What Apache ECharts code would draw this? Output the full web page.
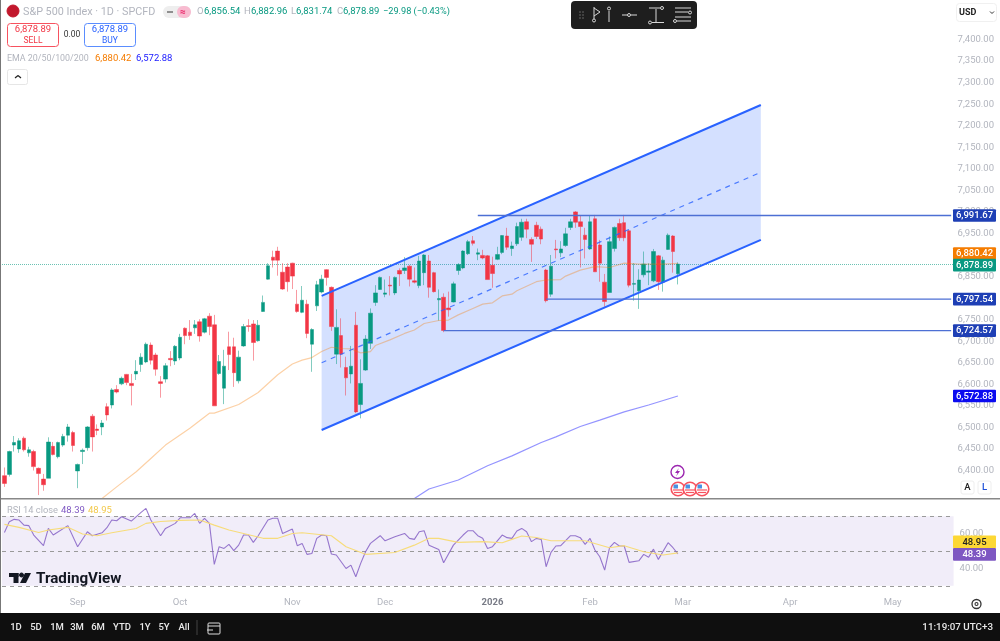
<!DOCTYPE html>
<html>
<head>
<meta charset="utf-8">
<style>
html, body { margin: 0; padding: 0; background: #fff; }
#chart { width: 1000px; height: 641px; }
</style>
<script src="https://cdn.jsdelivr.net/npm/echarts@6/dist/echarts.min.js"></script>
</head>
<body>
<div id="chart"></div>
<script>
const FONT = 'Roboto, sans-serif';
const barCount = 195;
const lastBar = barCount - 1;

// open, close, low, high per session
const candles = [
    [6388,6370,6362,6407],[6391,6444,6386,6446],[6459,6465,6444,6480],[6450,6469,6441,6475],[6475,6448,6444,6479],
    [6441,6448,6432,6455],[6444,6409,6400,6448],[6405,6393,6343,6407],[6380,6367,6353,6392],[6382,6466,6382,6477],
    [6456,6437,6435,6466],[6432,6465,6428,6467],[6459,6479,6455,6485],[6482,6501,6467,6508],[6488,6458,6444,6492],
    [6399,6414,6359,6416],[6444,6447,6415,6451],[6453,6501,6446,6503],[6526,6478,6444,6531],[6496,6493,6482,6507],
    [6501,6510,6482,6517],[6548,6529,6516,6556],[6552,6587,6544,6591],[6588,6582,6579,6598],[6601,6614,6598,6618],
    [6623,6604,6598,6624],[6602,6597,6551,6624],[6624,6630,6610,6656],[6646,6663,6629,6672],[6652,6693,6649,6697],
    [6691,6656,6646,6697],[6668,6635,6620,6673],[6606,6602,6569,6619],[6612,6643,6604,6649],[6660,6657,6642,6677],
    [6654,6688,6645,6691],[6661,6709,6656,6717],[6730,6713,6693,6732],[6721,6713,6703,6749],[6731,6738,6717,6749],
    [6745,6712,6699,6751],[6721,6752,6718,6754],[6758,6734,6714,6765],[6738,6550,6550,6761],[6625,6653,6622,6668],
    [6591,6642,6554,6680],[6687,6669,6633,6722],[6687,6627,6594,6708],[6608,6663,6602,6678],[6689,6734,6687,6740],
    [6736,6734,6722,6751],[6740,6697,6655,6749],[6701,6737,6699,6749],[6769,6790,6768,6806],[6844,6875,6843,6881],
    [6895,6888,6871,6910],[6909,6888,6852,6919],[6860,6821,6819,6881],[6872,6838,6815,6881],[6881,6851,6821,6882],
    [6786,6769,6766,6819],[6767,6795,6765,6828],[6786,6718,6707,6796],[6693,6727,6629,6730],[6782,6831,6770,6840],
    [6814,6844,6811,6854],[6866,6848,6829,6867],[6825,6734,6724,6827],[6670,6732,6647,6774],[6713,6670,6639,6753],
    [6639,6615,6574,6664],[6624,6642,6602,6689],[6737,6536,6533,6768],[6553,6602,6521,6658],[6633,6705,6631,6714],
    [6695,6765,6682,6776],[6790,6812,6782,6830],[6820,6848,6819,6850],[6809,6812,6802,6843],[6830,6828,6806,6851],
    [6812,6848,6807,6850],[6864,6856,6828,6869],[6864,6870,6856,6895],[6874,6844,6827,6877],[6840,6837,6834,6871],
    [6829,6886,6823,6898],[6859,6900,6830,6902],[6886,6825,6801,6900],[6859,6815,6813,6861],[6796,6799,6748,6820],
    [6802,6725,6721,6811],[6777,6773,6757,6815],[6791,6833,6790,6838],[6864,6878,6854,6881],[6870,6909,6867,6911],
    [6903,6931,6900,6935],[6933,6927,6922,6944],[6902,6905,6888,6915],[6899,6893,6890,6912],[6898,6843,6843,6900],
    [6876,6857,6824,6896],[6890,6901,6888,6919],[6906,6945,6902,6946],[6944,6918,6912,6963],[6915,6921,6898,6931],
    [6926,6966,6921,6975],[6941,6976,6933,6984],[6977,6960,6939,6984],[6936,6925,6884,6941],[6969,6943,6937,6977],
    [6960,6937,6925,6966],[6865,6794,6790,6868],[6809,6874,6803,6900],[6914,6912,6892,6935],[6905,6914,6895,6932],
    [6922,6949,6919,6963],[6964,6977,6958,6984],[7000,6976,6963,7002],[6977,6966,6871,6991],[6946,6936,6892,6963],
    [6914,6977,6912,6991],[6984,6861,6861,6993],[6923,6881,6838,6935],[6837,6792,6780,6856],[6813,6931,6813,6943],
    [6915,6964,6908,6966],[6973,6940,6933,6984],[6975,6940,6932,6993],[6956,6830,6825,6958],[6832,6834,6794,6881],
    [6817,6842,6775,6867],[6854,6879,6848,6908],[6860,6863,6830,6881],[6840,6908,6837,6914],[6898,6838,6819,6900],
    [6837,6888,6815,6896],[6913,6946,6912,6950],[6944,6908,6859,6946],[6856.54,6878.89,6831.74,6882.96]
];

const ema50Bars = [20,23,27,30,33,38,42,43,48,52,56,59,61,63,65,67,69,71,73,75,76,79,82,84,86,89,91,93,96,98,100,102,104,105,109,111,114,115,118,121,124,127,130,135,138];
const ema50Values = [6335,6362,6397,6428,6459,6498,6533,6533,6553,6581,6622,6647,6656,6662,6676,6686,6683,6682,6673,6676,6690,6703,6718,6726,6741,6748,6749,6761,6776,6786,6789,6805,6809,6817,6838,6842,6843,6851,6865,6873,6871,6881,6879,6879,6880.42];
const ema200Bars = [84,87,93,99,104,110,113,118,122,127,132,138];
const ema200Values = [6335,6357,6378,6411,6434,6465,6478,6502,6517,6536,6552,6572.88];

const rsiBars = [0,1,2,3,4,5,6,8,9,10,13,15,17,18,20,21,22,23,24,26,28,29,30,32,33,35,36,38,39,40,41,42,43,44,45,46,47,48,49,50,51,52,54,55,56,57,59,60,61,62,63,64,65,66,67,68,70,71,72,73,74,75,77,78,80,82,83,84,85,86,87,89,90,92,94,95,96,97,98,99,100,102,103,104,105,106,107,108,109,110,111,112,113,114,116,117,118,119,120,121,122,123,124,125,126,127,128,130,131,132,133,134,136,137,138];
const rsiValues = [60.7,66.9,68.2,67.8,64.9,64.6,59.2,53.1,63.0,59.2,64.6,52.5,61.1,58.8,60.5,63.4,67.8,67.4,69.7,67.2,72.2,74.5,67.8,58.8,63.0,65.9,69.1,69.1,71.6,65.9,68.8,65.9,42.3,52.5,51.5,53.8,50.2,53.4,59.2,59.2,55.0,58.8,67.8,68.8,68.8,60.1,62.6,53.1,54.4,48.1,48.6,57.3,59.2,58.8,48.3,47.7,40.0,41.9,35.2,42.9,49.6,54.4,58.8,55.9,58.2,60.1,57.3,56.7,61.1,61.7,53.4,50.9,43.3,53.4,59.2,61.7,61.7,58.8,57.3,51.5,52.5,59.2,57.7,57.3,61.5,63.0,61.1,55.4,57.3,56.7,41.0,49.2,52.9,53.1,58.8,58.8,57.7,53.8,57.3,50.6,46.7,39.1,51.9,55.0,52.9,52.9,43.5,44.4,48.1,46.4,51.1,45.2,54.8,51.9,48.39];
const rsiMaBars = [0,3,7,9,13,16,19,22,27,29,32,36,40,43,46,49,53,56,59,61,67,70,74,80,84,87,89,93,98,102,104,106,109,112,115,119,124,127,131,135,138];
const rsiMaValues = [65.3,63.6,60.7,62.1,63.6,59.8,58.8,60.5,63.0,65.9,67.0,67.6,67.8,64.9,62.1,60.1,57.3,57.3,60.1,60.5,58.8,52.5,48.1,49.2,53.4,57.3,57.3,55.0,55.4,54.8,56.7,58.6,57.8,55.9,55.9,55.9,51.9,53.1,49.6,47.7,48.95];
const rsiLevels = [70, 50, 30];
const rsiTicks = [40, 60];

// parallel channel drawing: bars and prices of its two ends
const channelBars = [65, 155];
const channelTop = [6805, 7248];
const channelMid = [6650, 7092];
const channelBottom = [6494, 6935];

const levelPrices = [6991.67, 6797.54, 6724.57];
const levelStartBars = [97, 111, 90];
const priceTicks = [6400,6450,6500,6550,6600,6650,6700,6750,6800,6850,6900,6950,7000,7050,7100,7150,7200,7250,7300,7350,7400];
const lastClose = 6878.89;
const ema50Last = 6880.42;
const ema200Last = 6572.88;
const rsiLast = 48.39;
const rsiMaLast = 48.95;

const monthBars = [15, 36, 59, 78, 100, 120, 139, 161, 182];
const monthLabels = ['Sep', 'Oct', 'Nov', 'Dec', '2026', 'Feb', 'Mar', 'Apr', 'May'];
const rangeLabels = ['1D', '5D', '1M', '3M', '6M', 'YTD', '1Y', '5Y', 'All'];

const fmt = (v) => v.toLocaleString('en-US', { minimumFractionDigits: 2, maximumFractionDigits: 2 });
const pairs = (bars, values) => bars.map((b, i) => [b, values[i]]);
const categories = Array.from({ length: barCount }, (_, i) => String(i));

function lineSeries(name, data, color, width, extra) {
    return Object.assign({
        name: name, type: 'line', data: data, symbol: 'none', silent: true,
        lineStyle: { color: color, width: width }, z: 5
    }, extra || {});
}

// price tag sitting in the axis column, placed from the axis scale
function priceTag(value, bg, textColor, shift, axis) {
    return {
        type: 'custom', xAxisIndex: axis, yAxisIndex: axis, z: 20, silent: true, clip: false,
        data: [[lastBar, value]],
        renderItem: function (params, api) {
            const p = api.coord([api.value(0), api.value(1)]);
            const y = p[1] + shift;
            return {
                type: 'group', children: [
                    { type: 'rect', shape: { x: 953, y: y - 6.3, width: 43, height: 12.6, r: 1 }, style: { fill: bg } },
                    { type: 'text', style: { x: 974.5, y: y + 0.5, text: fmt(value), fill: textColor, font: '500 9.5px ' + FONT, align: 'center', verticalAlign: 'middle' } }
                ]
            };
        }
    };
}

// chrome helpers
const txt = (x, y, text, fill, size, weight, align) => ({
    type: 'text', silent: true, z: 30,
    style: { x: x, y: y, text: text, fill: fill, font: (weight || 400) + ' ' + size + 'px ' + FONT, align: align || 'left', verticalAlign: 'middle' }
});
const box = (x, y, w, h, r, fill, stroke, z) => ({
    type: 'rect', silent: true, z: z || 29, shape: { x: x, y: y, width: w, height: h, r: r },
    style: { fill: fill, stroke: stroke || null, lineWidth: stroke ? 1 : 0 }
});
const seg = (x1, y1, x2, y2, stroke, w) => ({
    type: 'line', silent: true, z: 31, shape: { x1: x1, y1: y1, x2: x2, y2: y2 }, style: { stroke: stroke, lineWidth: w || 1 }
});
const dot = (x, y, r, fill, stroke, w) => ({
    type: 'circle', silent: true, z: 31, shape: { cx: x, cy: y, r: r }, style: { fill: fill, stroke: stroke, lineWidth: w || 1 }
});

const GREEN = '#089981';
const GREY = '#b2b5be';
const rangeX = [16, 36, 57, 77, 98, 122, 145, 164, 184];

function flag(x, y) {
    return [
        dot(x, y, 6.8, '#fff', '#f7525f', 1.6),
        seg(x - 5, y + 1, x + 5, y + 1, '#f7525f', 1.2),
        seg(x - 4, y + 3.5, x + 4, y + 3.5, '#f7525f', 1.2),
        box(x - 4.5, y - 4.5, 4.5, 4, 0.5, '#4a90e2', null, 31)
    ];
}

const tbIcon = '#d8d8d8';
const chrome = [
    // panes and frame
    box(0, 498, 1000, 1.4, 0, '#888888', null, 28),
    box(0, 0, 1, 613, 0, '#777777', null, 28),
    box(0, 613, 1000, 28, 0, '#0f0f0f', null, 28),
    // header
    dot(13, 11, 6, '#c2182d', '#c2182d', 1),
    txt(13, 11.5, '500', '#fff', 5.5, 700, 'center'),
    txt(23, 12, 'S&P 500 Index · 1D · SPCFD', GREY, 10.8),
    box(163, 6, 28, 12, 6, '#eeeeee'),
    box(177, 6, 14, 12, 6, '#f8bbd0'),
    seg(167, 12, 173, 12, '#777', 1.6),
    txt(183, 12, '≈', '#e91e63', 10, 700, 'center'),
    txt(197, 12, 'O', GREY, 9.5),
    txt(204, 12, '6,856.54', GREEN, 9.5),
    txt(244, 12, 'H', GREY, 9.5),
    txt(251, 12, '6,882.96', GREEN, 9.5),
    txt(291, 12, 'L', GREY, 9.5),
    txt(296, 12, '6,831.74', GREEN, 9.5),
    txt(337, 12, 'C', GREY, 9.5),
    txt(343, 12, '6,878.89', GREEN, 9.5),
    txt(383, 12, '−29.98 (−0.43%)', GREEN, 9.2),
    // sell and buy
    box(7.5, 23.5, 51, 23, 3, '#fff', '#f7525f'),
    txt(33, 30, '6,878.89', '#f23645', 9.5, 400, 'center'),
    txt(33, 40.5, 'SELL', '#f23645', 8.5, 400, 'center'),
    txt(72, 35, '0.00', '#333', 8.5, 400, 'center'),
    box(84.5, 23.5, 51, 23, 3, '#fff', '#5a8dff'),
    txt(110, 30, '6,878.89', '#2962ff', 9.5, 400, 'center'),
    txt(110, 40.5, 'BUY', '#2962ff', 8.5, 400, 'center'),
    // ema legend
    txt(7, 59, 'EMA 20/50/100/200', GREY, 8.9),
    txt(95, 59, '6,880.42', '#f57c00', 9.5),
    txt(136, 59, '6,572.88', '#1a1aff', 9.5),
    box(7.5, 69.5, 20, 15, 2, '#fff', '#e6e6e6'),
    seg(15, 78, 18, 75.5, '#222', 1.2),
    seg(18, 75.5, 21, 78, '#222', 1.2),
    // drawing toolbar
    box(571, 1, 126, 28, 4, '#1e1e1e', null, 29),
    dot(580, 12, 0.5, '#555', '#555'), dot(583, 12, 0.5, '#555', '#555'),
    dot(580, 15, 0.5, '#555', '#555'), dot(583, 15, 0.5, '#555', '#555'),
    dot(580, 18, 0.5, '#555', '#555'), dot(583, 18, 0.5, '#555', '#555'),
    seg(594, 7, 594, 19, tbIcon), dot(594, 20.5, 1.5, '#1e1e1e', tbIcon),
    seg(594, 8, 600, 12, tbIcon), seg(600, 12, 594, 16, tbIcon),
    seg(609, 11, 609, 22, tbIcon), dot(609, 8.5, 1.5, '#1e1e1e', tbIcon),
    seg(622, 15, 627, 15, tbIcon), dot(629, 15, 1.5, '#1e1e1e', tbIcon), seg(631, 15, 637, 15, tbIcon),
    seg(649, 8, 660, 8, tbIcon), dot(662, 8, 1.5, '#1e1e1e', tbIcon),
    seg(656, 9, 656, 22, tbIcon),
    dot(650, 22.5, 1.5, '#1e1e1e', tbIcon), seg(652, 22.5, 664, 22.5, tbIcon),
    seg(675, 8, 691, 8, tbIcon), seg(675, 12, 688, 12, tbIcon), dot(690, 12.5, 1.5, '#1e1e1e', tbIcon),
    seg(675, 17, 691, 17, tbIcon), dot(675, 21, 1.5, '#1e1e1e', tbIcon), seg(677, 21, 691, 21, tbIcon),
    // currency, auto and log
    box(956.5, 3.5, 40, 18, 3, '#fff', '#f0f0f0'),
    txt(959, 12.5, 'USD', '#222', 9, 700),
    seg(990, 11.5, 992, 13.5, '#333'), seg(992, 13.5, 994, 11.5, '#333'),
    box(961, 481, 13, 13, 2, '#fff', '#eeeeee'),
    txt(967.5, 488, 'A', '#222', 9.5, 500, 'center'),
    box(978, 481, 13, 13, 2, '#fff', '#eeeeee'),
    txt(984.5, 488, 'L', '#1c4fd8', 9.5, 500, 'center'),
    // events
    dot(677.5, 472, 6.5, '#fff', '#9c27b0', 1.4),
    { type: 'polygon', silent: true, z: 31, shape: { points: [[679, 468], [675, 473], [677.5, 473], [676, 476.5], [680, 471], [677.5, 471]] }, style: { fill: '#9c27b0' } }
].concat(flag(678, 489), flag(690, 489), flag(702, 489), [
    // rsi legend
    txt(7, 511, 'RSI 14 close', GREY, 9.3),
    txt(61, 511, '48.39', '#7e57c2', 9.5),
    txt(88, 511, '48.95', '#f2c94c', 9.5),
    // watermark
    box(9, 573, 9.5, 4, 0, '#131722', null, 31),
    box(13.5, 573, 5, 10, 0, '#131722', null, 31),
    dot(21.5, 575, 2, '#131722', '#131722', 0),
    { type: 'polygon', silent: true, z: 31, shape: { points: [[25, 573], [31, 573], [26, 583], [20, 583]] }, style: { fill: '#131722' } },
    txt(36, 579, 'TradingView', '#131722', 15.2, 700),
    // settings
    dot(976.5, 604, 4.5, '#fff', '#333', 1.3),
    dot(976.5, 604, 1.5, '#fff', '#333', 1.1),
    // bottom bar
    seg(197, 620, 197, 635, '#444'),
    box(208, 623, 12, 11, 1, 'transparent', '#ddd'),
    seg(208, 626, 220, 626, '#ddd'),
    seg(207, 630, 213, 630, '#ddd'),
    txt(993, 628, '11:19:07 UTC+3', '#e8e8e8', 9.8, 500, 'right')
], rangeLabels.map((label, i) => txt(rangeX[i], 628, label, '#e8e8e8', 9.5, 500, 'center')));

const channelSeries = {
    type: 'custom', xAxisIndex: 0, yAxisIndex: 0, z: 2, silent: true,
    data: channelBars.map((b, i) => [b, channelTop[i], channelBottom[i]]),
    renderItem: function (params, api) {
        if (params.dataIndex !== 0) return null;
        const pts = [
            api.coord([channelBars[0], channelTop[0]]),
            api.coord([channelBars[1], channelTop[1]]),
            api.coord([channelBars[1], channelBottom[1]]),
            api.coord([channelBars[0], channelBottom[0]])
        ];
        return { type: 'polygon', shape: { points: pts }, style: { fill: 'rgba(41,98,255,0.2)' } };
    }
};

const option = {
    animation: false,
    backgroundColor: '#ffffff',
    textStyle: { fontFamily: FONT },
    tooltip: { show: false },
    axisPointer: { show: false },
    grid: [
        { left: 2, width: 951.6, top: 0, height: 498 },
        { left: 2, width: 951.6, top: 499, height: 98 }
    ],
    xAxis: [
        { type: 'category', gridIndex: 0, data: categories, boundaryGap: true, axisLine: { show: false }, axisTick: { show: false }, axisLabel: { show: false }, splitLine: { show: false } },
        {
            type: 'category', gridIndex: 1, data: categories, boundaryGap: true, axisLine: { show: false }, axisTick: { show: false }, splitLine: { show: false },
            axisLabel: {
                interval: 0, margin: 1, color: GREY, fontSize: 9.5, fontFamily: FONT,
                formatter: function (v, i) {
                    const at = monthBars.indexOf(i);
                    if (at < 0) return '';
                    return monthLabels[at] === '2026' ? '{year|2026}' : monthLabels[at];
                },
                rich: { year: { color: '#787b86', fontWeight: 700, fontSize: 9.5, fontFamily: FONT } }
            }
        }
    ],
    yAxis: [
        {
            type: 'value', gridIndex: 0, position: 'right', min: 6336.2, max: 7491.6,
            axisLine: { show: false }, axisTick: { show: false }, splitLine: { show: false },
            axisLabel: { customValues: priceTicks, color: GREY, fontSize: 9.5, margin: 4, padding: [2, 0, 0, 0], fontFamily: FONT, formatter: (v) => fmt(v) }
        },
        {
            type: 'value', gridIndex: 1, position: 'right', min: 23.6, max: 79.9,
            axisLine: { show: false }, axisTick: { show: false }, splitLine: { show: false },
            axisLabel: { customValues: rsiTicks, color: GREY, fontSize: 9.5, margin: 6, padding: [2, 0, 0, 0], fontFamily: FONT, formatter: (v) => fmt(v) }
        }
    ],
    series: [
        {
            type: 'candlestick', xAxisIndex: 0, yAxisIndex: 0, data: candles, barWidth: 4, z: 3, silent: true,
            itemStyle: {
                color: '#089981', color0: '#f23645',
                borderColor: 'rgba(8,153,129,0.5)', borderColor0: 'rgba(242,54,69,0.5)', borderWidth: 1
            },
            markLine: {
                silent: true, symbol: 'none', label: { show: false }, z: 2,
                lineStyle: { color: 'rgba(8,153,129,0.6)', type: 'dotted', width: 1 },
                data: [{ yAxis: lastClose }]
            }
        },
        channelSeries,
        lineSeries('channel top', pairs(channelBars, channelTop), '#2962ff', 2),
        lineSeries('channel bottom', pairs(channelBars, channelBottom), '#2962ff', 2),
        lineSeries('channel mid', pairs(channelBars, channelMid), 'rgba(41,98,255,0.8)', 1.2, { lineStyle: { color: 'rgba(41,98,255,0.8)', width: 1.2, type: [5, 5] } }),
        lineSeries('ema 50', pairs(ema50Bars, ema50Values), 'rgba(245,124,0,0.35)', 1.2, { z: 3.5 }),
        lineSeries('ema 200', pairs(ema200Bars, ema200Values), 'rgba(60,60,255,0.55)', 1.2, { z: 3.5 })
    ].concat(
        levelPrices.map((p, i) => lineSeries('level ' + i, [[levelStartBars[i], p], [lastBar, p]], '#4d6fd4', 1.3)),
        [
            priceTag(levelPrices[0], '#1e3fb5', '#fff', 0, 0),
            priceTag(levelPrices[1], '#1e3fb5', '#fff', 0, 0),
            priceTag(levelPrices[2], '#1e3fb5', '#fff', 0, 0),
            priceTag(ema50Last, '#f57c00', '#fff', -10, 0),
            priceTag(lastClose, GREEN, '#fff', 1, 0),
            priceTag(ema200Last, '#0b0bf0', '#fff', 0, 0),
            {
                type: 'line', xAxisIndex: 1, yAxisIndex: 1, data: pairs(rsiBars, rsiValues), symbol: 'none', silent: true, z: 5,
                lineStyle: { color: 'rgba(126,87,194,0.8)', width: 1.1 },
                markArea: { silent: true, itemStyle: { color: '#f1edf9' }, data: [[{ yAxis: rsiLevels[0] }, { yAxis: rsiLevels[2] }]] },
                markLine: {
                    silent: true, symbol: 'none', label: { show: false },
                    lineStyle: { color: '#9a9a9a', type: [4, 4], width: 1 },
                    data: rsiLevels.map((v) => ({ yAxis: v }))
                }
            },
            {
                type: 'line', xAxisIndex: 1, yAxisIndex: 1, data: pairs(rsiMaBars, rsiMaValues), symbol: 'none', silent: true, z: 5,
                lineStyle: { color: '#f7dc7a', width: 1.1 }
            },
            priceTag(rsiMaLast, '#fdd835', '#222', -11, 1),
            priceTag(rsiLast, '#7e57c2', '#fff', 0.5, 1)
        ]
    ),
    graphic: chrome
};

const my_chart = echarts.init(document.getElementById('chart'), null, { renderer: 'canvas' });
my_chart.setOption(option);
</script>
</body>
</html>
